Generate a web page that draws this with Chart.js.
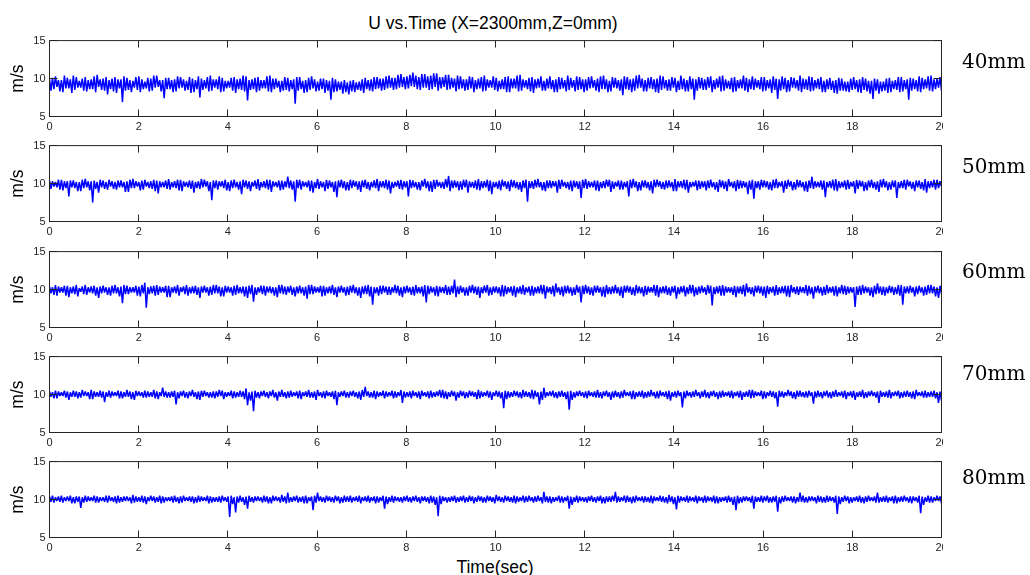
<!DOCTYPE html>
<html>
<head>
<meta charset="utf-8">
<script src="https://cdn.jsdelivr.net/npm/chart.js@4.4.1/dist/chart.umd.min.js"></script>
<style>
  body { margin: 0; background: #fff; width: 1030px; height: 575px; position: relative; overflow: hidden;
         font-family: 'Liberation Sans', Arial, sans-serif; }
  canvas { position: absolute; left: 0; }
  .txt { position: absolute; white-space: nowrap; color: #000; }
  .title { font-size: 17.5px; line-height: 20px; left: 493px; top: 13px; transform: translateX(-50%); }
  .xlabel { font-size: 17.5px; line-height: 20px; left: 495px; top: 557px; transform: translateX(-50%); }
  .height { font-family: 'DejaVu Serif', serif; font-size: 20px; line-height: 20px; left: 962px; }
</style>
</head>
<body>
<div class="txt title">U vs.Time (X=2300mm,Z=0mm)</div>
<div class="txt xlabel">Time(sec)</div>

<script>
// probe heights shown at the right of each panel
const heights = ['40mm', '50mm', '60mm', '70mm', '80mm'];
const xTicks = [0, 2, 4, 6, 8, 10, 12, 14, 16, 18, 20];
const yTicks = [5, 10, 15];

// U (m/s), 600 samples over 20 s
const u40 = [
  9.9,8.4,10.1,8.6,10.3,8.9,9.8,8.3,9.8,8.2,10.4,8.7,10.1,8.7,9.9,8.1,10.4,8.5,10.2,8.8,
  9.7,8.8,10.0,8.4,10.2,8.3,9.8,8.6,9.9,8.6,10.3,8.2,10.5,8.9,9.9,8.5,10.0,8.4,10.2,7.9,
  9.8,8.6,10.0,8.3,10.2,8.1,9.9,8.7,9.9,6.9,10.3,8.4,10.1,8.5,9.8,8.2,9.7,8.8,10.2,8.5,
  10.3,8.2,9.9,8.6,9.6,8.7,10.1,8.3,10.0,8.4,10.4,8.8,10.4,8.9,9.8,8.3,9.8,7.4,10.1,8.6,
  10.1,8.6,9.8,8.2,9.9,8.3,10.3,8.7,10.2,8.8,9.9,8.4,9.7,8.5,10.2,8.1,10.0,8.2,9.8,8.6,
  10.3,7.5,10.0,8.5,9.8,8.7,10.2,8.3,10.4,8.4,9.9,8.8,9.9,8.6,10.3,8.2,10.1,8.3,9.7,8.7,
  9.7,8.8,10.1,8.4,10.2,8.1,9.9,8.6,10.0,8.5,10.4,8.3,10.3,7.1,9.8,8.5,9.9,8.6,10.1,8.2,
  10.2,8.4,9.8,8.7,9.8,8.7,10.3,8.3,10.4,8.2,10.0,8.6,10.0,8.8,9.7,8.2,9.7,8.4,10.2,8.5,
  10.1,8.3,9.8,8.6,9.9,6.7,10.2,8.4,10.2,8.6,9.7,8.1,9.8,8.2,10.1,8.5,10.3,8.7,9.9,8.3,
  9.6,8.4,10.0,8.6,10.0,8.1,9.8,8.4,9.7,7.2,10.1,8.2,9.9,8.3,9.6,8.5,9.6,8.0,9.8,8.2,
  9.5,7.9,9.7,8.3,9.8,8.2,9.5,8.5,9.6,8.4,9.9,8.1,10.1,8.6,9.8,8.4,9.9,8.3,10.2,8.6,
  10.2,8.7,10.0,8.4,10.0,8.5,10.3,8.7,10.4,8.8,10.1,8.5,10.1,8.6,10.5,8.8,10.6,8.9,10.2,8.6,
  10.3,8.7,10.5,9.0,10.8,8.9,10.4,8.6,10.2,8.5,10.6,8.8,10.6,8.8,10.3,8.5,10.4,8.6,10.7,8.9,
  10.7,8.4,10.2,8.7,10.2,8.9,10.5,8.5,10.5,8.6,10.1,8.8,10.0,8.3,10.4,8.6,10.3,8.7,9.9,8.4,
  9.9,8.5,10.3,8.7,10.2,8.2,9.8,8.6,10.0,8.7,10.2,8.3,10.4,8.4,9.9,8.8,9.8,8.8,10.3,8.5,
  10.1,8.3,9.7,8.6,9.9,8.6,10.2,8.2,10.3,8.2,10.0,8.7,10.0,8.7,10.4,8.3,10.5,8.4,9.9,8.8,
  9.8,8.6,10.1,8.3,10.2,8.1,9.9,8.7,10.0,8.8,10.3,8.4,9.7,8.4,10.0,8.7,10.3,8.6,9.8,8.2,
  9.9,8.2,10.2,8.6,10.1,8.7,9.8,8.3,10.4,8.5,10.1,8.8,9.8,8.3,10.3,8.5,10.2,8.6,9.9,8.2,
  9.9,8.4,10.2,8.7,10.3,8.8,9.8,8.4,10.0,8.2,10.3,8.6,10.4,8.6,9.9,8.2,9.7,8.3,10.2,8.8,
  10.1,8.7,9.8,8.4,9.9,7.8,10.3,8.6,10.2,8.5,9.9,8.2,10.0,8.4,10.4,8.7,10.5,8.8,10.0,8.3,
  9.8,8.3,10.1,8.7,10.2,8.6,9.9,8.2,10.0,8.1,10.4,8.5,10.3,8.7,9.8,8.4,9.9,8.4,10.2,8.8,
  10.1,8.2,9.7,8.5,10.4,8.6,10.0,8.3,9.8,8.3,10.3,8.6,10.0,7.2,9.9,8.4,10.2,8.7,10.1,8.5,
  9.9,8.5,10.2,8.8,10.3,8.2,9.8,8.6,10.0,8.8,10.3,8.3,10.4,8.4,9.9,8.7,9.7,8.6,10.1,8.2,
  10.2,8.3,9.8,8.7,9.9,8.7,10.4,8.4,10.1,8.2,9.9,8.6,10.3,8.5,10.0,8.8,9.8,8.6,10.2,8.3,
  10.2,8.4,9.8,8.7,9.9,8.1,10.3,8.5,10.0,7.3,9.9,8.4,10.3,8.6,10.1,8.2,9.8,8.3,10.2,8.8,
  10.1,8.7,9.8,8.4,10.4,8.2,10.0,8.6,9.9,8.5,10.3,8.3,10.2,8.4,9.8,8.7,10.0,8.6,10.2,8.2,
  9.7,8.2,9.9,8.6,10.1,8.5,9.7,8.1,9.8,8.0,10.1,8.4,10.0,8.4,9.6,8.3,9.6,8.2,10.0,8.5,
  10.2,8.6,9.8,8.2,9.9,8.1,10.2,8.5,10.0,8.3,9.7,8.0,9.7,7.3,10.0,8.4,9.9,8.0,9.6,8.3,
  9.6,8.4,10.0,8.1,10.1,8.2,9.7,8.6,9.8,8.5,10.2,8.2,10.2,8.3,9.8,8.6,9.9,7.2,10.1,8.4,
  10.0,8.6,9.8,8.3,10.3,8.2,10.1,8.6,9.9,8.7,10.3,8.4,10.4,8.3,9.9,8.6,10.0,8.8,10.2,8.4
];
const u50 = [
  10.4,9.3,10.3,9.6,10.2,9.5,10.5,9.2,10.5,9.1,10.3,9.4,10.3,8.3,10.4,9.5,10.4,9.4,10.2,9.0,
  10.2,9.0,10.5,9.4,10.6,9.5,10.3,9.1,10.3,7.5,10.4,9.3,10.2,8.8,10.5,9.5,10.4,9.3,10.2,9.2,
  10.5,9.6,10.3,9.3,10.2,9.2,10.4,9.5,10.4,9.5,10.2,8.9,10.3,8.9,10.5,9.4,10.6,9.4,10.3,9.6,
  10.2,9.1,10.4,9.2,10.5,9.6,10.2,9.4,10.3,9.3,10.5,9.0,10.4,8.7,10.3,9.5,10.2,9.5,10.4,9.3,
  10.6,9.2,10.2,9.5,10.3,9.4,10.5,9.1,10.5,9.0,10.3,9.6,10.2,9.5,10.4,9.3,10.4,8.8,10.2,9.4,
  10.3,9.3,10.6,9.5,10.5,9.6,10.3,9.0,10.2,7.8,10.4,9.4,10.4,9.2,10.3,9.6,10.3,9.4,10.5,9.1,
  10.2,9.0,10.4,9.4,10.5,9.5,10.2,9.2,10.3,8.6,10.5,9.5,10.4,9.3,10.3,9.0,10.2,9.6,10.4,9.3,
  10.6,9.1,10.2,9.5,10.3,9.4,10.5,9.2,10.5,8.9,10.3,9.6,10.2,9.5,10.4,9.1,10.4,9.2,10.3,9.5,
  10.9,9.4,10.4,9.2,10.3,7.6,10.5,9.4,10.5,9.2,10.3,9.6,10.2,9.5,10.4,9.0,10.4,8.8,10.2,9.4,
  10.6,9.3,10.3,9.5,10.2,9.0,10.5,9.3,10.4,9.5,10.2,8.9,10.3,8.2,10.4,9.5,10.5,9.4,10.3,9.1,
  10.2,9.1,10.5,9.4,10.4,9.6,10.3,9.2,10.3,8.9,10.4,9.5,10.5,9.3,10.2,9.1,10.2,9.5,10.4,9.4,
  10.6,9.0,10.3,9.5,10.3,9.4,10.5,9.2,10.4,8.7,10.2,9.4,10.2,9.6,10.4,9.3,10.5,9.2,10.3,9.5,
  10.3,8.3,10.5,9.4,10.4,9.5,10.2,9.2,10.2,9.1,10.4,9.6,10.6,9.4,10.3,9.0,10.3,8.9,10.5,9.3,
  10.5,9.6,10.2,9.4,10.2,9.3,10.6,9.5,11.0,9.0,10.4,9.4,10.4,9.5,10.3,9.1,10.3,9.2,10.5,9.5,
  10.5,8.8,10.3,9.5,10.2,9.4,10.4,9.2,10.6,9.1,10.3,9.4,10.3,9.5,10.5,9.0,10.4,8.6,10.2,9.5,
  10.2,9.3,10.4,9.1,10.5,9.6,10.3,9.3,10.3,9.0,10.5,9.5,10.4,9.4,10.2,9.2,10.2,8.9,10.4,9.4,
  10.5,7.6,10.3,9.4,10.3,9.3,10.5,9.5,10.6,9.5,10.2,9.1,10.2,9.0,10.4,9.4,10.4,9.4,10.3,9.6,
  10.3,8.8,10.5,9.3,10.5,9.6,10.2,9.4,10.2,9.2,10.4,9.0,10.4,9.5,10.3,9.3,10.3,8.1,10.5,9.4,
  10.6,9.3,10.3,9.5,10.2,9.5,10.4,9.1,10.4,9.0,10.2,9.4,10.3,9.4,10.5,9.6,10.5,8.9,10.3,9.3,
  10.2,9.6,10.4,9.2,10.4,9.2,10.2,9.5,10.3,8.3,10.5,9.4,10.6,9.5,10.3,9.0,10.2,9.1,10.4,9.5,
  10.4,9.4,10.2,9.1,10.3,8.7,10.5,9.5,10.5,9.6,10.3,9.3,10.2,9.2,10.4,9.4,10.4,9.5,10.2,9.0,
  10.6,9.0,10.3,9.5,10.3,9.4,10.5,9.2,10.5,8.8,10.2,9.5,10.2,9.6,10.4,9.1,10.4,9.3,10.3,9.5,
  10.3,9.1,10.4,9.4,10.5,9.5,10.2,9.2,10.2,8.9,10.5,9.5,10.4,9.3,10.3,9.0,10.6,9.6,10.2,9.4,
  10.3,9.0,10.5,9.3,10.4,9.4,10.3,9.5,10.2,8.6,10.4,9.2,10.5,8.0,10.3,9.4,10.3,9.2,10.5,9.5,
  10.4,9.5,10.3,9.2,10.2,9.1,10.5,9.4,10.6,9.4,10.2,9.6,10.3,8.8,10.4,9.3,10.5,9.6,10.3,9.1,
  10.2,9.2,10.5,9.5,10.4,9.5,10.2,9.0,10.3,8.9,10.4,9.4,10.9,9.3,10.3,9.5,10.2,9.5,10.4,9.2,
  10.4,8.2,10.2,9.5,10.3,9.4,10.5,9.1,10.6,9.0,10.3,9.4,10.2,9.5,10.4,9.2,10.5,9.3,10.2,9.6,
  10.3,8.7,10.5,9.3,10.4,9.6,10.3,9.0,10.2,9.1,10.4,9.5,10.5,9.4,10.2,9.2,10.3,8.9,10.5,9.5,
  10.6,9.5,10.3,9.1,10.2,9.2,10.4,9.5,10.4,8.1,10.2,9.4,10.3,9.4,10.5,9.2,10.5,9.6,10.3,9.3,
  10.2,9.0,10.4,9.5,10.4,9.3,10.2,9.1,10.6,8.8,10.3,9.4,10.3,9.5,10.5,9.2,10.5,9.4,10.3,9.6
];
const u60 = [
  10.4,9.5,10.3,9.3,10.6,9.2,10.4,9.6,10.3,9.6,10.5,9.2,10.5,9.0,10.3,9.5,10.4,9.4,10.6,9.1,
  10.2,9.7,10.4,9.4,10.6,9.3,10.3,9.6,10.4,9.5,10.5,9.2,10.3,8.9,10.4,9.5,10.5,9.6,10.3,9.3,
  10.3,9.2,10.5,9.5,10.6,9.5,10.3,9.1,10.4,8.2,10.6,9.4,10.5,9.4,10.3,9.6,10.3,9.6,10.5,9.2,
  10.4,9.1,10.6,9.5,10.9,7.6,10.3,9.4,10.4,9.5,10.5,9.2,10.6,9.3,10.4,9.6,10.3,9.6,10.5,9.0,
  10.5,9.0,10.3,9.6,10.4,9.5,10.6,9.2,10.3,9.7,10.4,9.4,10.6,9.2,10.3,9.5,10.4,9.5,10.5,9.3,
  10.3,8.9,10.4,9.6,10.5,9.6,10.3,9.2,10.4,9.3,10.6,9.5,10.6,9.5,10.4,9.1,10.3,9.1,10.5,9.6,
  10.4,9.6,10.3,9.2,10.5,9.3,10.6,9.5,10.3,9.5,10.4,9.1,10.4,8.9,10.5,9.4,10.6,8.4,10.3,9.3,
  10.3,9.6,10.5,9.4,10.5,9.2,10.4,9.6,10.4,9.5,10.3,9.2,10.3,9.0,10.6,9.5,10.6,9.4,10.4,9.3,
  10.4,9.6,10.5,9.3,10.3,9.1,10.4,9.5,10.5,9.5,10.3,9.2,10.4,8.8,10.6,9.4,10.6,9.4,10.4,9.6,
  10.3,9.6,10.5,9.1,10.5,9.2,10.3,9.5,10.4,9.5,10.6,9.3,10.3,9.0,10.4,9.6,10.5,9.6,10.3,9.2,
  10.4,9.3,10.5,9.6,10.6,9.5,10.3,9.2,10.3,8.9,10.4,9.4,10.5,9.4,10.6,9.1,10.4,8.0,10.3,9.5,
  10.3,9.2,10.5,9.4,10.5,9.6,10.4,9.3,10.4,9.3,10.3,9.6,10.6,9.5,10.5,9.2,10.3,9.0,10.4,9.5,
  10.5,9.6,10.3,9.3,10.4,9.2,10.6,9.5,10.3,9.5,10.4,9.1,10.6,8.3,10.5,9.4,10.4,9.6,10.3,9.2,
  10.5,9.1,10.4,9.6,10.3,9.5,10.6,9.3,10.4,9.3,10.5,9.5,11.3,9.0,10.4,9.4,10.5,9.6,10.3,9.2,
  10.3,9.2,10.5,9.6,10.6,9.5,10.4,9.3,10.4,8.9,10.3,9.5,10.5,9.6,10.6,9.2,10.3,9.3,10.4,9.6,
  10.4,9.5,10.3,9.1,10.6,9.1,10.5,9.4,10.3,9.6,10.4,9.2,10.5,9.0,10.3,9.5,10.4,9.4,10.6,9.3,
  10.3,9.6,10.4,9.2,10.5,9.2,10.3,9.5,10.4,9.5,10.6,9.4,10.6,8.8,10.4,9.6,10.3,9.4,10.5,9.1,
  10.8,9.6,10.3,9.3,10.4,9.1,10.5,9.5,10.5,9.5,10.3,9.2,10.3,9.3,10.6,9.6,10.4,8.3,10.5,9.4,
  10.6,9.5,10.4,9.3,10.3,9.2,10.5,9.6,10.5,9.6,10.3,9.1,10.4,9.0,10.6,9.4,10.3,9.4,10.4,9.5,
  10.6,9.5,10.3,9.2,10.4,8.9,10.5,9.6,10.5,9.6,10.4,9.3,10.3,9.2,10.6,9.5,10.4,9.5,10.3,9.1,
  10.5,9.3,10.4,9.6,10.3,9.6,10.6,9.2,10.6,9.0,10.3,9.5,10.4,9.5,10.5,9.3,10.3,9.2,10.4,9.6,
  10.5,8.8,10.3,9.4,10.4,9.6,10.5,9.1,10.3,9.4,10.6,9.5,10.6,9.1,10.3,9.3,10.4,9.5,10.5,9.6,
  10.3,9.3,10.6,9.5,10.5,7.9,10.3,9.4,10.4,9.5,10.5,9.2,10.6,9.2,10.4,9.6,10.3,9.6,10.3,9.3,
  10.5,9.0,10.4,9.5,10.4,9.4,10.6,9.1,10.8,9.6,10.3,9.4,10.3,9.1,10.5,9.6,10.5,9.5,10.4,9.2,
  10.4,8.9,10.5,9.4,10.3,9.6,10.4,9.2,10.6,9.3,10.3,9.5,10.4,9.5,10.5,9.1,10.5,9.0,10.6,9.6,
  10.3,9.4,10.4,9.3,10.4,9.6,10.3,9.5,10.6,9.2,10.5,9.4,10.3,8.8,10.4,9.6,10.5,9.5,10.3,9.2,
  10.4,9.3,10.6,9.5,10.3,9.6,10.4,9.2,10.5,9.1,10.3,9.5,10.6,9.4,10.5,9.3,10.4,9.5,10.3,9.6,
  10.3,7.7,10.4,9.3,10.5,9.3,10.6,9.5,10.4,9.6,10.3,9.2,10.3,9.0,10.5,9.4,10.8,9.5,10.4,9.3,
  10.4,9.2,10.3,9.5,10.5,9.6,10.4,9.3,10.3,9.4,10.6,9.2,10.6,8.0,10.4,9.5,10.4,9.5,10.5,9.6,
  10.3,9.1,10.4,9.4,10.5,9.6,10.3,9.2,10.4,9.3,10.6,9.5,10.6,9.5,10.4,9.1,10.3,8.9,10.5,9.4
];
const u70 = [
  10.4,9.7,10.3,9.5,10.5,9.5,10.4,9.8,10.3,9.8,10.5,9.6,10.4,9.3,10.3,9.7,10.5,9.7,10.4,9.5,
  10.3,9.6,10.6,9.8,10.4,9.8,10.3,9.4,10.6,9.4,10.4,9.7,10.3,9.7,10.5,9.6,10.4,9.0,10.3,9.7,
  10.5,9.6,10.4,9.8,10.3,9.8,10.5,9.5,10.4,9.5,10.3,9.7,10.6,9.7,10.4,9.4,10.3,9.3,10.5,9.8,
  10.4,9.8,10.3,9.6,10.5,9.6,10.4,9.7,10.3,9.7,10.6,9.5,10.4,9.4,10.3,9.8,10.9,9.7,10.4,9.6,
  10.3,9.6,10.4,9.7,10.5,8.7,10.3,9.5,10.4,9.8,10.5,9.6,10.3,9.5,10.4,9.8,10.6,9.7,10.3,9.4,
  10.4,9.3,10.5,9.7,10.5,9.8,10.3,9.6,10.3,9.6,10.4,9.5,10.4,9.7,10.6,9.8,10.5,9.4,10.3,9.7,
  10.3,9.8,10.5,9.5,10.4,9.6,10.3,9.7,10.5,9.7,10.4,9.4,10.8,8.6,10.3,9.2,10.4,7.8,10.5,9.6,
  10.3,9.5,10.4,9.8,10.5,9.7,10.3,9.5,10.4,9.8,10.6,9.6,10.3,9.2,10.4,9.7,10.6,9.7,10.3,9.5,
  10.4,9.6,10.5,9.7,10.3,9.8,10.4,9.5,10.5,9.4,10.3,9.8,10.4,9.7,10.6,9.6,10.3,9.6,10.4,9.3,
  10.6,9.8,10.3,9.6,10.4,9.5,10.5,9.8,10.3,9.7,10.4,9.4,10.5,8.6,10.3,9.7,10.4,9.8,10.5,9.6,
  10.3,9.6,10.4,9.8,10.5,9.7,10.3,9.5,10.4,9.3,10.6,9.7,11.0,9.8,10.4,9.6,10.3,9.6,10.5,9.4,
  10.4,9.7,10.3,9.8,10.5,9.5,10.4,9.7,10.3,9.8,10.5,9.5,10.4,9.6,10.3,9.8,10.6,8.9,10.4,9.6,
  10.3,9.7,10.4,9.5,10.5,9.8,10.3,9.6,10.4,9.4,10.5,9.8,10.3,9.7,10.4,9.5,10.5,9.6,10.3,9.7,
  10.4,9.8,10.6,9.6,10.6,9.5,10.4,9.4,10.3,9.7,10.5,9.8,10.4,9.2,10.3,9.6,10.5,9.8,10.4,9.5,
  10.3,9.6,10.5,9.8,10.4,9.7,10.3,9.4,10.6,9.5,10.4,9.7,10.3,9.8,10.5,9.6,10.4,9.3,10.3,9.8,
  10.5,9.7,10.4,9.5,10.3,8.2,10.5,9.4,10.4,9.6,10.3,9.7,10.5,9.8,10.4,9.6,10.3,9.5,10.6,9.7,
  10.4,9.7,10.3,9.5,10.6,9.4,10.5,9.7,10.3,8.7,10.4,9.3,10.9,9.6,10.3,9.8,10.4,9.8,10.5,9.6,
  10.3,9.5,10.4,9.7,10.5,9.7,10.3,9.4,10.4,8.0,10.5,9.3,10.3,9.6,10.4,9.8,10.5,9.8,10.3,9.6,
  10.4,9.5,10.5,9.8,10.3,9.7,10.4,9.6,10.6,9.6,10.3,9.5,10.4,9.8,10.5,9.7,10.3,9.3,10.4,9.6,
  10.5,9.7,10.3,9.5,10.4,9.6,10.6,9.8,10.3,9.8,10.4,9.4,10.5,9.4,10.3,9.7,10.4,9.7,10.5,9.5,
  10.3,9.6,10.4,9.7,10.6,9.8,10.3,9.5,10.4,9.5,10.5,9.8,10.3,9.7,10.4,9.4,10.5,9.2,10.3,9.7,
  10.4,9.6,10.5,9.8,10.3,8.3,10.4,9.5,10.5,9.8,10.3,9.6,10.4,9.7,10.6,9.8,10.3,9.5,10.4,9.7,
  10.6,9.6,10.3,9.5,10.4,9.8,10.5,9.7,10.3,9.4,10.4,9.6,10.5,9.7,10.3,9.8,10.4,9.6,10.5,9.5,
  10.3,9.8,10.4,9.6,10.5,9.3,10.3,9.7,10.4,9.7,10.6,9.5,10.6,9.6,10.4,9.8,10.3,9.8,10.5,9.4,
  10.4,9.5,10.3,9.8,10.5,9.7,10.4,9.5,10.3,8.4,10.5,9.7,10.4,9.6,10.3,9.8,10.6,9.8,10.4,9.5,
  10.3,9.4,10.5,9.7,10.5,9.7,10.3,9.6,10.4,9.6,10.5,9.8,10.3,8.8,10.4,9.6,10.5,9.7,10.3,9.5,
  10.4,9.8,10.5,9.6,10.3,9.5,10.4,9.7,10.6,9.7,10.3,9.8,10.4,9.6,10.5,9.4,10.3,9.8,10.4,9.6,
  10.5,9.3,10.3,9.7,10.4,9.7,10.6,9.5,10.3,9.6,10.4,9.8,10.5,9.8,10.3,9.6,10.4,8.9,10.5,9.7,
  10.3,9.7,10.4,9.6,10.6,9.5,10.3,9.8,10.4,9.8,10.5,9.5,10.3,9.6,10.4,9.7,10.5,9.7,10.3,9.5,
  10.4,9.4,10.6,9.8,10.3,9.8,10.4,9.6,10.5,9.6,10.3,9.7,10.4,9.7,10.5,9.5,10.3,8.9,10.4,9.2
];
const u80 = [
  10.4,9.7,10.5,9.6,10.3,9.8,10.4,9.7,10.5,9.6,10.3,9.8,10.4,9.8,10.5,9.5,10.3,9.5,10.4,9.7,
  10.4,8.9,10.3,9.6,10.5,9.7,10.4,9.8,10.3,9.8,10.5,9.6,10.4,9.6,10.3,9.8,10.3,9.7,10.5,9.6,
  10.5,9.8,10.3,9.7,10.4,9.5,10.5,9.6,10.3,9.7,10.4,9.8,10.4,9.8,10.3,9.5,10.6,9.6,10.4,9.7,
  10.3,9.7,10.5,9.6,10.4,9.4,10.3,9.8,10.5,9.8,10.4,9.6,10.3,9.7,10.5,9.5,10.4,9.6,10.3,9.8,
  10.3,9.8,10.4,9.6,10.5,9.7,10.3,9.5,10.4,9.6,10.5,9.8,10.3,9.8,10.4,9.7,10.4,9.5,10.3,9.6,
  10.5,9.7,10.4,9.8,10.3,9.8,10.5,9.5,10.4,9.6,10.3,9.7,10.3,9.7,10.4,9.6,10.5,9.8,10.3,9.7,
  10.4,7.7,10.5,9.4,10.3,8.3,10.4,9.6,10.5,9.7,10.3,9.3,10.4,8.8,10.5,9.7,10.3,9.6,10.4,9.8,
  10.4,9.8,10.3,9.6,10.5,9.7,10.4,9.5,10.3,9.5,10.5,9.8,10.4,9.8,10.3,9.6,10.6,9.7,10.4,9.5,
  10.9,9.6,10.3,9.7,10.4,9.8,10.5,9.6,10.3,9.7,10.4,9.5,10.5,9.5,10.3,9.8,10.4,8.6,10.5,9.6,
  10.9,9.8,10.4,9.7,10.3,9.6,10.5,9.8,10.4,9.7,10.3,9.6,10.5,9.8,10.4,9.5,10.3,9.6,10.5,9.7,
  10.4,9.7,10.5,9.6,10.3,9.8,10.4,9.7,10.5,9.5,10.3,9.8,10.4,9.7,10.5,9.6,10.3,9.8,10.4,9.5,
  10.4,9.6,10.3,9.8,10.5,8.8,10.4,9.4,10.3,9.7,10.5,9.6,10.4,9.8,10.3,9.7,10.3,9.6,10.4,9.8,
  10.5,9.7,10.3,9.6,10.4,9.8,10.5,9.7,10.3,9.5,10.4,9.8,10.4,9.7,10.3,9.5,10.5,9.6,10.4,9.3,
  10.3,7.8,10.5,9.4,10.4,9.8,10.3,9.6,10.3,9.7,10.4,9.8,10.5,9.6,10.3,9.7,10.4,9.8,10.5,9.6,
  10.3,9.7,10.5,9.8,10.4,9.5,10.3,9.7,10.5,9.8,10.4,9.6,10.3,9.6,10.5,9.8,10.4,9.7,10.3,9.5,
  10.6,9.8,10.4,9.7,10.3,9.6,10.5,9.8,10.4,9.7,10.3,9.6,10.5,9.5,10.4,9.7,10.3,9.8,10.5,9.6,
  10.4,9.7,10.5,9.8,10.3,9.6,10.4,9.7,10.5,9.8,10.3,9.5,11.0,9.7,10.4,9.6,10.4,9.5,10.3,9.7,
  10.3,9.8,10.5,9.6,10.4,9.6,10.3,9.8,10.5,8.8,10.4,9.3,10.3,9.7,10.5,9.6,10.4,9.8,10.3,9.7,
  10.3,9.6,10.4,9.8,10.5,9.7,10.3,9.6,10.4,9.8,10.5,9.5,10.3,9.5,10.4,9.7,10.4,9.7,10.5,9.8,
  11.0,9.6,10.4,9.7,10.3,9.8,10.5,9.6,10.5,9.7,10.3,9.5,10.4,9.6,10.5,9.8,10.3,9.8,10.4,9.6,
  10.4,9.7,10.3,9.6,10.5,9.5,10.4,9.8,10.3,9.8,10.5,9.7,10.4,9.6,10.3,9.5,10.6,9.7,10.4,9.4,
  10.3,8.7,10.5,9.6,10.4,9.8,10.3,9.7,10.5,9.6,10.4,9.8,10.3,9.7,10.5,9.5,10.4,9.8,10.3,9.6,
  10.5,9.6,10.4,9.8,10.3,9.7,10.5,9.5,10.4,9.5,10.3,9.7,10.3,9.8,10.4,9.6,10.5,9.7,10.3,9.3,
  10.4,8.6,10.5,9.5,10.3,9.6,10.4,9.8,10.4,9.8,10.3,9.6,10.5,8.8,10.4,9.7,10.3,9.7,10.5,9.6,
  10.4,9.8,10.5,9.6,10.3,9.6,10.4,9.7,10.5,8.4,10.3,9.5,10.4,9.7,10.5,9.8,10.3,9.8,10.4,9.6,
  10.4,9.5,10.3,9.7,10.9,9.7,10.5,9.6,10.3,9.6,10.4,9.8,10.4,9.8,10.3,9.5,10.5,9.7,10.4,9.6,
  10.3,9.6,10.5,9.7,10.4,9.8,10.3,9.6,10.5,8.1,10.4,9.4,10.3,9.7,10.5,9.8,10.4,9.5,10.3,9.6,
  10.3,9.8,10.4,9.7,10.5,9.6,10.3,9.5,10.4,9.7,10.5,9.8,10.3,9.8,10.4,9.6,10.9,9.6,10.3,9.7,
  10.4,9.7,10.5,9.6,10.3,9.8,10.4,9.5,10.5,9.5,10.3,9.7,10.4,9.7,10.5,9.8,10.3,9.6,10.4,9.5,
  10.4,9.8,10.3,9.6,10.5,8.2,10.4,9.3,10.3,9.7,10.5,9.6,10.4,9.6,10.3,9.8,10.5,9.8,10.4,9.5
];
const series = [u40, u50, u60, u70, u80];

// layout: top edge (px) of every panel's box, and where its right-hand label sits
const panelTop = [40, 145, 251, 356, 461];
const labelTop = [51, 156, 261, 363, 467];
const boxHeight = 76;

Chart.defaults.font.family = "'Liberation Sans', Arial, sans-serif";
Chart.defaults.color = '#262626';

// MATLAB style box with inward ticks on all four sides
const matlabBox = {
  id: 'matlabBox',
  afterDatasetsDraw(chart) {
    const {ctx, chartArea: a, scales: {x, y}} = chart;
    ctx.save();
    ctx.strokeStyle = '#262626';
    ctx.lineWidth = 1;
    ctx.beginPath();
    xTicks.forEach(v => {
      const px = Math.round(x.getPixelForValue(v) - 0.5) + 0.5;
      ctx.moveTo(px, a.top); ctx.lineTo(px, a.top + 7);
      ctx.moveTo(px, a.bottom); ctx.lineTo(px, a.bottom - 7);
    });
    yTicks.forEach(v => {
      const py = Math.round(y.getPixelForValue(v) - 0.5) + 0.5;
      ctx.moveTo(a.left, py); ctx.lineTo(a.left + 8, py);
      ctx.moveTo(a.right, py); ctx.lineTo(a.right - 8, py);
    });
    ctx.stroke();
    ctx.strokeRect(a.left, a.top, a.right - a.left, a.bottom - a.top);
    // the source figure is cut just right of the box, chopping the "20" label
    ctx.fillStyle = '#fff';
    ctx.fillRect(a.right + 1.5, a.bottom + 1, chart.width, chart.height);
    ctx.restore();
  }
};

series.forEach((vals, k) => {
  const canvas = document.createElement('canvas');
  canvas.width = 1030;
  canvas.height = 112;
  canvas.style.top = (panelTop[k] - 10) + 'px';
  document.body.appendChild(canvas);

  const lbl = document.createElement('div');
  lbl.className = 'txt height';
  lbl.style.top = labelTop[k] + 'px';
  lbl.textContent = heights[k];
  document.body.appendChild(lbl);

  const pts = vals.map((v, i) => ({x: i * 20 / (vals.length - 1), y: v}));

  new Chart(canvas, {
    type: 'line',
    data: {
      datasets: [{
        data: pts,
        borderColor: '#0000ff',
        borderWidth: 1.5,
        borderJoinStyle: 'bevel',
        pointRadius: 0,
        tension: 0,
        fill: false
      }]
    },
    options: {
      responsive: false,
      animation: false,
      events: [],
      layout: {padding: {left: 0, right: 88.5, top: 10.5, bottom: 0}},
      plugins: {legend: {display: false}, tooltip: {enabled: false}},
      scales: {
        x: {
          type: 'linear', min: 0, max: 20,
          grid: {display: false, drawTicks: false},
          border: {display: false},
          ticks: {stepSize: 2, maxRotation: 0, autoSkip: false, padding: 4, font: {size: 11}},
          afterFit: s => { s.height = 112 - 10.5 - boxHeight; }
        },
        y: {
          min: 5, max: 15,
          grid: {display: false, drawTicks: false},
          border: {display: false},
          ticks: {stepSize: 5, padding: 4, font: {size: 11}},
          title: {display: true, text: 'm/s', color: '#000', font: {size: 17.5}, padding: {top: 7.5, bottom: 0}},
          afterFit: s => { s.width = 49.5; }
        }
      }
    },
    plugins: [matlabBox]
  });
});
</script>
</body>
</html>
